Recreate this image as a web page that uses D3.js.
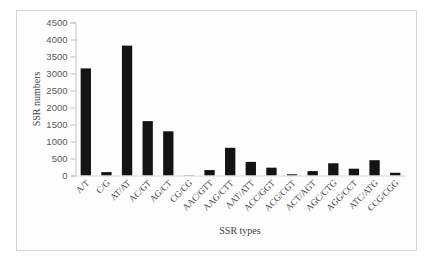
<!DOCTYPE html>
<html><head><meta charset="utf-8">
<script src="https://cdn.jsdelivr.net/npm/d3@7"></script>
<style>html,body{margin:0;padding:0;background:#fff;}svg{display:block;}</style>
</head><body>
<script>
const categories = ["A/T","C/G","AT/AT","AC/GT","AG/CT","CG/CG","AAC/GTT","AAG/CTT","AAT/ATT","ACC/GGT","ACG/CGT","ACT/AGT","AGC/CTG","AGG/CCT","ATC/ATG","CCG/CGG"];
const ssrCounts = [3150,100,3820,1600,1300,8,160,815,400,230,35,130,360,200,450,80];
const yTicks = [0,500,1000,1500,2000,2500,3000,3500,4000,4500];
const yTitle = "SSR numbers";
const xTitle = "SSR types";

const W = 424, H = 257;
const svg = d3.select("body").append("svg").attr("width", W).attr("height", H);
svg.append("rect").attr("x",16.5).attr("y",10.5).attr("width",400).attr("height",240)
  .attr("fill","#fdfdfd").attr("stroke","#d4d4d4").attr("stroke-width",1);

const x = d3.scaleBand().domain(categories).range([75.5, 405.5]).paddingInner(0.5).paddingOuter(0.25);
const y = d3.scaleLinear().domain([0,4500]).range([175.5, 22.5]);

svg.selectAll("rect.bar").data(categories).enter().append("rect")
  .attr("class","bar")
  .attr("x", d => x(d))
  .attr("width", x.bandwidth())
  .attr("y", (d,i) => y(ssrCounts[i]))
  .attr("height", (d,i) => y(0) - y(ssrCounts[i]))
  .attr("fill","#141414");

// y axis
const ya = svg.append("g").attr("transform","translate(75.5,0)")
  .call(d3.axisLeft(y).tickValues(yTicks).tickFormat(d3.format("d")).tickSize(5).tickPadding(3));
ya.select(".domain").attr("stroke","#bfbfbf");
ya.selectAll(".tick line").attr("stroke","#bfbfbf");
ya.selectAll(".tick text").attr("fill","#595959").style("font-family","Liberation Sans, Arial, sans-serif").style("font-size","9.5px");

// x axis
const xa = svg.append("g").attr("transform","translate(0,175.5)")
  .call(d3.axisBottom(x).tickSize(0).tickPadding(0));
xa.select(".domain").attr("stroke","#d9d9d9");
xa.selectAll(".tick text")
  .attr("fill","#404040")
  .style("font-family","Liberation Serif, Times New Roman, serif")
  .style("font-size","9px")
  .attr("text-anchor","end")
  .attr("dy","0")
  .attr("transform","translate(4,8) rotate(-45)");

svg.append("text").attr("transform","translate(40,99) rotate(-90)")
  .attr("text-anchor","middle").attr("fill","#404040")
  .style("font-family","Liberation Serif, Times New Roman, serif").style("font-size","10px")
  .text(yTitle);
svg.append("text").attr("x",240).attr("y",234)
  .attr("text-anchor","middle").attr("fill","#404040")
  .style("font-family","Liberation Serif, Times New Roman, serif").style("font-size","10px")
  .text(xTitle);
</script>
</body></html>
